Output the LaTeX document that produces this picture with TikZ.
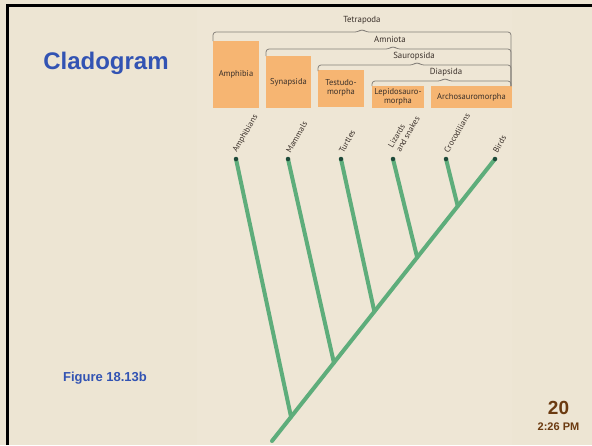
\documentclass[tikz,border=0pt]{standalone}
\usepackage{fontspec}
\setmainfont{Liberation Sans}
\newfontfamily\figfont{PT Sans}
\usetikzlibrary{calc}
\definecolor{slidebg}{HTML}{EDE5D3}
\definecolor{panelbg}{HTML}{EEE6D5}
\definecolor{titleblue}{HTML}{3253B3}
\definecolor{numbrown}{HTML}{6B3A10}
\definecolor{boxorange}{HTML}{F6B572}
\definecolor{figtext}{HTML}{3A302A}
\definecolor{bracegray}{HTML}{85807A}
\definecolor{branchgreen}{HTML}{5EAD7B}
\definecolor{tipdark}{HTML}{1E4A3A}
\begin{document}
\begin{tikzpicture}[x=1pt,y=-1pt,
  frame/.style={line width=3pt,black},
  taxbox/.style={fill=boxorange,inner sep=0pt,align=center,
    font=\figfont\fontsize{8.5}{8.5}\selectfont,text=figtext},
  cladebrace/.style={draw=bracegray,line width=0.8pt,rounded corners=3pt},
  cladename/.style={font=\figfont\fontsize{8.8}{9}\selectfont,text=figtext,inner sep=0pt},
  branch/.style={draw=branchgreen,line width=4pt,line cap=round},
  tipdot/.style={circle,fill=tipdark,inner sep=0pt,minimum size=4.5pt},
  taxlabel/.style={font=\figfont\fontsize{8.3}{9}\selectfont,text=figtext,
    rotate=60,anchor=west,inner sep=0pt,align=left},
  slidetext/.style={font=\bfseries,inner sep=0pt}]

% slide background and frame
\fill[slidebg] (0,0) rectangle (592,445);
\useasboundingbox (0,0) rectangle (592,445);
\fill[panelbg] (197,8) rectangle (512,445);
\draw[frame] (7.5,445) -- (7.5,5.5) -- (592,5.5);

% slide texts
\node[slidetext,text=titleblue,font=\bfseries\fontsize{24}{28}\selectfont] (title) at (106,63) {Cladogram};
\node[slidetext,text=titleblue,font=\bfseries\fontsize{13}{15}\selectfont] (figref) at (105,378) {Figure 18.13b};
\node[slidetext,text=numbrown,font=\bfseries\fontsize{19}{21}\selectfont] (pagenum) at (558.5,408) {20};
\node[slidetext,text=numbrown,font=\bfseries\fontsize{11}{13}\selectfont] (clock) at (558.5,427) {2:26 PM};

% group boxes
\node[taxbox,minimum width=46pt,minimum height=67pt] (amphibia) at (236,74.5) {Amphibia};
\node[taxbox,minimum width=45pt,minimum height=52pt] (synapsida) at (288.5,82) {Synapsida};
\node[taxbox,minimum width=46pt,minimum height=37pt] (testudo) at (341,88) {Testudo-\\morpha};
\node[taxbox,minimum width=52pt,minimum height=22pt] (lepido) at (398,97) {Lepidosauro-\\morpha};
\node[taxbox,minimum width=81pt,minimum height=22pt] (archo) at (471.5,97) {Archosauromorpha};

% nested clade brackets
\draw[cladebrace] (213,41) -- (213,32) -- (358,32) -- (362,29) -- (366,32) -- (511,32) -- (511,86);
\node[cladename] (tetrapoda) at (362,20) {Tetrapoda};
\draw[cladebrace] (266,56) -- (266,49) -- (389,49) -- (393,46) -- (397,49) -- (511,49) -- (511,86);
\node[cladename] (amniota) at (390,39) {Amniota};
\draw[cladebrace] (318,71) -- (318,65) -- (413,65) -- (417,62) -- (421,65) -- (511,65) -- (511,86);
\node[cladename] (sauropsida) at (414,56) {Sauropsida};
\draw[cladebrace] (372,86) -- (372,81) -- (441,81) -- (445,78) -- (449,81) -- (511,81) -- (511,86);
\node[cladename] (diapsida) at (446,72) {Diapsida};

% tree
\coordinate (root) at (272,441);
\coordinate (p1) at (236,159);
\coordinate (p2) at (288,159);
\coordinate (p3) at (341,159);
\coordinate (p4) at (393,159);
\coordinate (p5) at (446,159);
\coordinate (p6) at (495,159);
\coordinate (j1) at ($(root)!0.0854!(p6)$);
\coordinate (j2) at ($(root)!0.2776!(p6)$);
\coordinate (j3) at ($(root)!0.459!(p6)$);
\coordinate (j4) at ($(root)!0.651!(p6)$);
\coordinate (j5) at ($(root)!0.833!(p6)$);
\draw[branch] (root) -- (p6);
\draw[branch] (j1) -- (p1);
\draw[branch] (j2) -- (p2);
\draw[branch] (j3) -- (p3);
\draw[branch] (j4) -- (p4);
\draw[branch] (j5) -- (p5);
\foreach \i in {1,...,6} \node[tipdot] (tip\i) at (p\i) {};

% taxon labels
\node[taxlabel] (amphibians) at (235,152) {Amphibians};
\node[taxlabel] (mammals) at (288,152) {Mammals};
\node[taxlabel] (turtles) at (341,152) {Turtles};
\node[taxlabel] (lizards) at (394,149) {Lizards\\and snakes};
\node[taxlabel] (crocs) at (446,152) {Crocodilians};
\node[taxlabel] (birds) at (495,152) {Birds};
\end{tikzpicture}
\end{document}
